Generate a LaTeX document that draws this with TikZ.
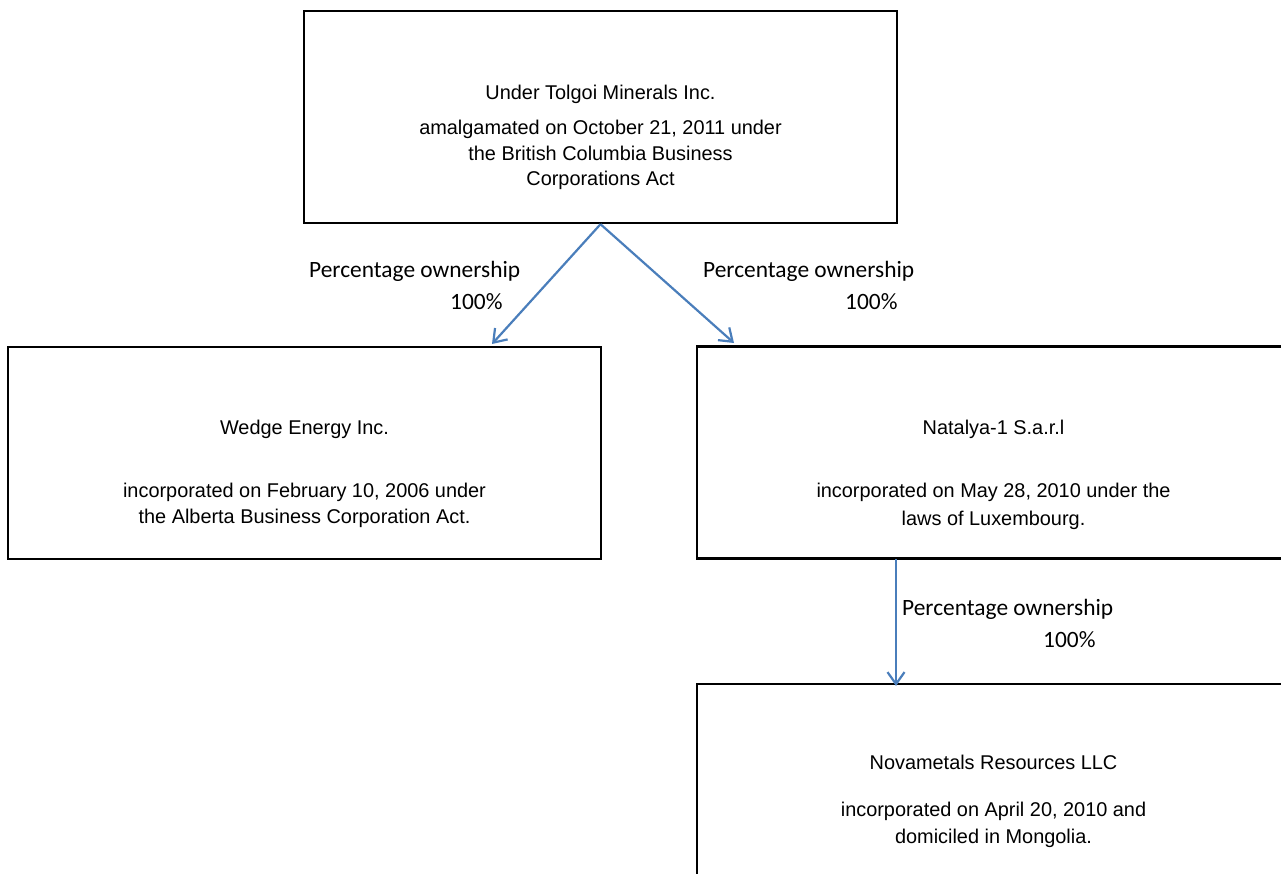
\documentclass[tikz,border=0pt]{standalone}
\usepackage{fontspec}
\setmainfont{Liberation Sans}
\newfontfamily\calfont{Carlito}
\usetikzlibrary{arrows.meta}
\definecolor{arrowblue}{RGB}{74,126,187}
\tikzset{
  entity/.style={draw=black, line width=2.4pt, minimum width=593pt, minimum height=212pt, inner sep=0pt, fill=none},
  boxtext/.style={anchor=base, inner sep=0pt, font=\fontsize{19.9}{24}\selectfont},
  lbl/.style={anchor=base west, inner sep=0pt, font=\calfont\fontsize{23.4}{28}\selectfont},
  own/.style={draw=arrowblue, line width=2.2pt, -{Straight Barb[length=12pt,width=17pt,line width=2.2pt]}}
}
\begin{document}
\begin{tikzpicture}[x=1pt,y=-1pt]
\useasboundingbox[fill=white] (0,0) rectangle (1281,873);

% boxes
\node[entity] (top) at (600.5,117) {};
\node[entity] (wedge) at (304.5,453) {};
\node[entity] (nat) at (993.5,452.5) {};
\node[entity] (nova) at (993.5,790) {};

% top box text
\node[boxtext] (t1) at (600.5,99) {Under Tolgoi Minerals Inc.};
\node[boxtext] (t2) at (600.5,134) {amalgamated on October 21, 2011 under};
\node[boxtext] (t3) at (600.5,160) {the British Columbia Business};
\node[boxtext] (t4) at (600.5,185) {Corporations Act};

% wedge text
\node[boxtext] (w1) at (304.5,434) {Wedge Energy Inc.};
\node[boxtext] (w2) at (304.5,497) {incorporated on February 10, 2006 under};
\node[boxtext] (w3) at (304.5,523) {the Alberta Business Corporation Act.};

% natalya text
\node[boxtext] (n1) at (993.5,434) {Natalya-1 S.a.r.l};
\node[boxtext] (n2) at (993.5,497) {incorporated on May 28, 2010 under the};
\node[boxtext] (n3) at (993.5,525) {laws of Luxembourg.};

% novametals text
\node[boxtext] (v1) at (993.5,769) {Novametals Resources LLC};
\node[boxtext] (v2) at (993.5,816) {incorporated on April 20, 2010 and};
\node[boxtext] (v3) at (993.5,843) {domiciled in Mongolia.};

% connectors
\coordinate (wedgeIn) at (492,344);
\coordinate (natIn) at (734,343);
\coordinate (natOut) at (896,559);
\coordinate (novaIn) at (896,686);
\draw[own] (top.south) -- (wedgeIn);
\draw[own] (top.south) -- (natIn);
\draw[own] (natOut) -- (novaIn);

% labels
\node[lbl] (l1a) at (309,277) {Percentage ownership};
\node[lbl] (l1b) at (450,309) {100\%};
\node[lbl] (l2a) at (703,277) {Percentage ownership};
\node[lbl] (l2b) at (845,309) {100\%};
\node[lbl] (l3a) at (902,615) {Percentage ownership};
\node[lbl] (l3b) at (1043,647) {100\%};
\end{tikzpicture}
\end{document}
